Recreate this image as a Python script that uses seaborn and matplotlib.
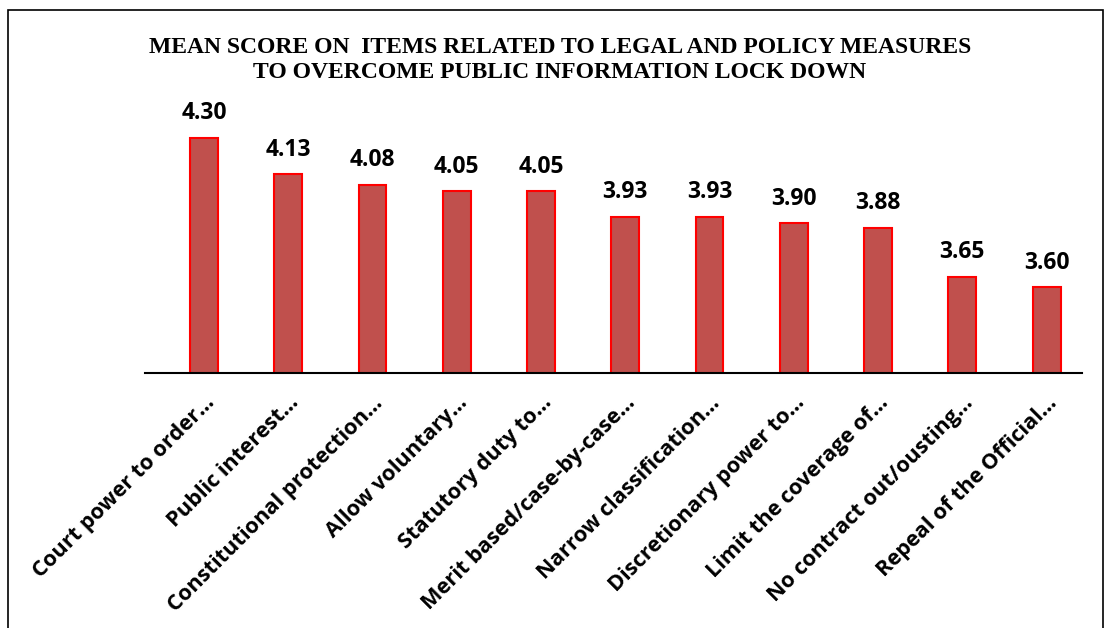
import matplotlib
matplotlib.use("Agg")
import matplotlib.pyplot as plt
import seaborn as sns
import pandas as pd
from matplotlib.patches import Rectangle

items = ["Court power to order…", "Public interest…", "Constitutional protection…",
         "Allow voluntary…", "Statutory duty to…", "Merit based/case-by-case…",
         "Narrow classification…", "Discretionary power to…", "Limit the coverage of…",
         "No contract out/ousting…", "Repeal of the Official…"]
scores = [4.30, 4.13, 4.08, 4.05, 4.05, 3.93, 3.93, 3.90, 3.88, 3.65, 3.60]

df = pd.DataFrame({"item": items, "score": scores})

sns.set_style("white")
plt.rcParams['font.family'] = ['Open Sans', 'DejaVu Sans']
plt.rcParams['text.color'] = 'black'
plt.rcParams['xtick.color'] = 'black'

W, H = 1106, 628
fig = plt.figure(figsize=(W / 100, H / 100), dpi=100)
ax = fig.add_axes([145 / W, 1 - 373 / H, 937 / W, (373 - 95) / H])

sns.barplot(data=df, x="item", y="score", color="#C0504D", width=0.33,
            edgecolor="#FF0000", linewidth=1.5, saturation=1, ax=ax)

ax.set_ylim(3.2, 4.5)
ax.set_xlim(-0.7, 10.42)
for s in ["top", "right", "left"]:
    ax.spines[s].set_visible(False)
ax.spines["bottom"].set_linewidth(1.5)
ax.spines["bottom"].set_color("black")
ax.set_yticks([])
ax.set_xlabel("")
ax.set_ylabel("")
ax.tick_params(axis="x", length=0, pad=14)
ax.set_xticks(range(len(items)))
ax.set_xticklabels(items, rotation=45, ha="right", rotation_mode="anchor",
                   fontsize=15.7, fontweight="bold", color="black")

for i, v in enumerate(scores):
    ax.annotate(f"{v:.2f}", (i, v), xytext=(0, 9), textcoords="offset points",
                ha="center", va="bottom", fontsize=16.5, fontweight="bold",
                color="black")

fig.text(0.506, 1 - 60 / H,
         "MEAN SCORE ON  ITEMS RELATED TO LEGAL AND POLICY MEASURES\nTO OVERCOME PUBLIC INFORMATION LOCK DOWN",
         ha="center", va="center", fontsize=17, fontweight="bold",
         family="Liberation Serif", linespacing=1.3, color="black")

fig.patches.append(Rectangle((8 / W, -0.1), (1103 - 8) / W, 1.1 - 10 / H,
                             transform=fig.transFigure, fill=False,
                             edgecolor="black", linewidth=1.2))

fig.savefig("out.png", dpi=100)
